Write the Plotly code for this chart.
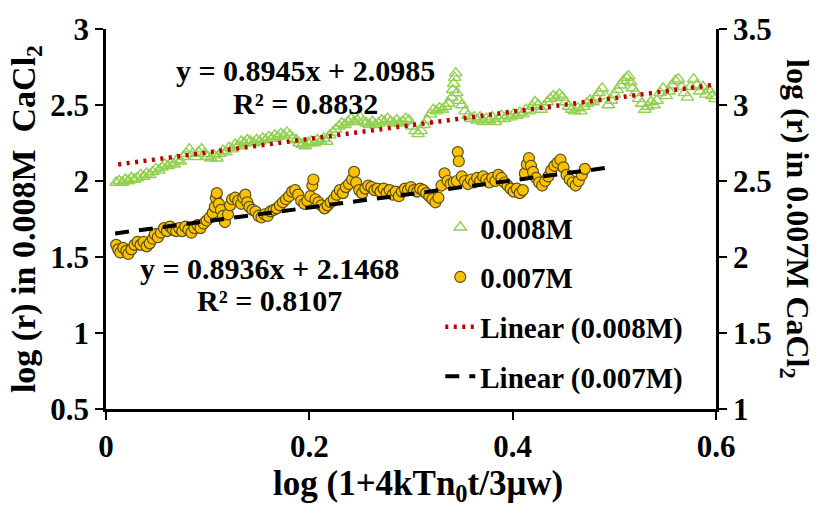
import plotly.graph_objects as go

# ---------------- data ----------------
x_008 = [0.010,0.013,0.016,0.019,0.022,0.025,0.028,0.031,0.034,0.037,0.040,0.043,0.046,0.049,0.052,0.055,0.058,0.061,0.064,0.067,
         0.070,0.073,0.076,0.079,0.082,0.085,0.088,0.091,0.094,0.097,0.100,0.103,0.106,0.109,0.112,0.115,0.118,0.121,0.124,0.127,
         0.130,0.133,0.136,0.139,0.142,0.145,0.148,0.151,0.154,0.157,0.160,0.163,0.166,0.169,0.172,0.175,0.178,0.181,0.184,0.187,
         0.190,0.193,0.196,0.199,0.202,0.205,0.208,0.211,0.214,0.217,0.220,0.223,0.226,0.229,0.232,0.235,0.238,0.241,0.244,0.247,
         0.250,0.253,0.256,0.259,0.262,0.265,0.268,0.271,0.274,0.277,0.280,0.283,0.286,0.289,0.292,0.295,0.298,0.301,0.304,0.307,
         0.310,0.313,0.316,0.319,0.322,0.325,0.328,0.331,0.334,0.337,0.340,0.341,0.342,0.343,0.344,0.345,0.347,0.350,0.353,0.356,
         0.359,0.362,0.365,0.368,0.371,0.374,0.377,0.380,0.383,0.386,0.389,0.392,0.395,0.398,0.401,0.404,0.407,0.410,0.413,0.416,
         0.419,0.422,0.425,0.428,0.431,0.434,0.437,0.440,0.443,0.446,0.449,0.452,0.455,0.458,0.461,0.464,0.467,0.470,0.473,0.476,
         0.479,0.482,0.485,0.488,0.491,0.494,0.497,0.500,0.503,0.506,0.509,0.512,0.514,0.516,0.518,0.521,0.524,0.527,0.530,0.533,
         0.536,0.539,0.542,0.545,0.548,0.551,0.554,0.557,0.560,0.563,0.566,0.569,0.572,0.575,0.578,0.581,0.584,0.587,0.590,0.593,
         0.596,0.599]
y_008 = [1.99,2.00,1.99,2.01,2.00,2.02,2.01,2.02,2.04,2.03,2.05,2.04,2.06,2.08,2.07,2.09,2.11,2.10,2.12,2.11,
         2.14,2.13,2.16,2.18,2.21,2.18,2.16,2.19,2.21,2.18,2.16,2.15,2.17,2.15,2.18,2.20,2.19,2.22,2.21,2.24,
         2.23,2.26,2.25,2.27,2.26,2.25,2.27,2.26,2.28,2.27,2.29,2.28,2.30,2.29,2.31,2.30,2.32,2.30,2.28,2.27,
         2.25,2.24,2.23,2.25,2.26,2.25,2.27,2.26,2.28,2.26,2.30,2.32,2.34,2.36,2.38,2.37,2.39,2.41,2.39,2.40,
         2.42,2.39,2.38,2.37,2.39,2.37,2.38,2.40,2.39,2.41,2.39,2.38,2.40,2.38,2.39,2.41,2.40,2.36,2.33,2.31,
         2.33,2.37,2.40,2.44,2.47,2.46,2.48,2.47,2.49,2.51,2.55,2.60,2.64,2.68,2.71,2.58,2.53,2.50,2.46,2.43,
         2.41,2.42,2.40,2.42,2.39,2.41,2.40,2.42,2.39,2.41,2.43,2.41,2.43,2.42,2.44,2.43,2.45,2.44,2.47,2.46,
         2.49,2.52,2.50,2.47,2.49,2.52,2.54,2.56,2.55,2.57,2.55,2.52,2.49,2.47,2.46,2.48,2.46,2.49,2.51,2.53,
         2.52,2.55,2.58,2.61,2.56,2.50,2.53,2.57,2.60,2.63,2.66,2.68,2.69,2.65,2.61,2.58,2.54,2.51,2.47,2.49,
         2.52,2.50,2.53,2.58,2.61,2.56,2.59,2.63,2.66,2.67,2.62,2.58,2.55,2.62,2.67,2.63,2.59,2.62,2.57,2.60,
         2.56,2.54]

x_007 = [0.010,0.012,0.014,0.017,0.020,0.022,0.025,0.028,0.031,0.034,0.037,0.040,0.043,0.046,0.048,0.051,0.054,0.057,0.060,0.063,
         0.066,0.069,0.072,0.075,0.078,0.081,0.084,0.087,0.090,0.093,0.096,0.099,0.102,0.105,0.107,0.108,0.109,0.111,0.113,0.115,
         0.117,0.120,0.122,0.124,0.127,0.130,0.133,0.135,0.137,0.139,0.141,0.144,0.147,0.150,0.153,0.156,0.159,0.162,0.165,0.168,
         0.171,0.174,0.177,0.180,0.183,0.186,0.189,0.192,0.195,0.198,0.201,0.203,0.204,0.206,0.209,0.212,0.215,0.218,0.221,0.224,
         0.227,0.230,0.233,0.236,0.239,0.242,0.244,0.246,0.249,0.252,0.255,0.258,0.261,0.264,0.267,0.270,0.273,0.276,0.279,0.282,
         0.285,0.288,0.291,0.294,0.297,0.300,0.303,0.306,0.309,0.312,0.315,0.318,0.321,0.324,0.327,0.330,0.333,0.336,0.339,0.342,
         0.345,0.346,0.347,0.350,0.353,0.356,0.359,0.362,0.365,0.368,0.371,0.374,0.377,0.380,0.383,0.386,0.389,0.392,0.395,0.398,
         0.401,0.404,0.407,0.410,0.412,0.414,0.416,0.418,0.420,0.423,0.426,0.429,0.432,0.435,0.438,0.441,0.444,0.447,0.450,0.453,
         0.456,0.459,0.462,0.465,0.468,0.471]
y_007 = [2.08,2.05,2.03,2.06,2.04,2.02,2.05,2.08,2.10,2.08,2.10,2.07,2.09,2.12,2.15,2.13,2.16,2.19,2.17,2.20,
         2.18,2.17,2.19,2.17,2.20,2.18,2.16,2.19,2.21,2.19,2.22,2.24,2.26,2.29,2.33,2.39,2.42,2.35,2.31,2.27,
         2.23,2.28,2.34,2.38,2.39,2.37,2.35,2.39,2.41,2.36,2.33,2.31,2.30,2.27,2.26,2.28,2.27,2.30,2.31,2.32,
         2.34,2.36,2.38,2.40,2.43,2.44,2.41,2.37,2.35,2.37,2.40,2.47,2.51,2.38,2.36,2.34,2.32,2.34,2.36,2.38,
         2.41,2.44,2.42,2.46,2.48,2.51,2.56,2.49,2.44,2.42,2.45,2.47,2.46,2.44,2.45,2.43,2.45,2.42,2.44,2.41,
         2.43,2.40,2.43,2.45,2.44,2.46,2.44,2.43,2.45,2.44,2.42,2.40,2.38,2.36,2.39,2.47,2.55,2.50,2.48,2.49,
         2.50,2.69,2.63,2.53,2.50,2.48,2.51,2.49,2.52,2.50,2.53,2.51,2.49,2.52,2.50,2.54,2.52,2.49,2.47,2.45,
         2.43,2.45,2.42,2.44,2.55,2.61,2.65,2.60,2.56,2.52,2.49,2.47,2.50,2.53,2.57,2.60,2.62,2.64,2.59,2.54,
         2.51,2.49,2.47,2.50,2.54,2.58]

# trendline equations (from the chart) and their x-extent
slope_008, icpt_008, r2_008 = 0.8945, 2.0985, 0.8832
slope_007, icpt_007, r2_007 = 0.8936, 2.1468, 0.8107
trend_x_008 = [0.012, 0.600]
trend_x_007 = [0.009, 0.493]

# tick labels
x_ticks = [0, 0.2, 0.4, 0.6]
x_ticklabels = ["0", "0.2", "0.4", "0.6"]
y_ticks = [0.5, 1, 1.5, 2, 2.5, 3]
y_ticklabels = ["0.5", "1", "1.5", "2", "2.5", "3"]
y2_ticks = [1, 1.5, 2, 2.5, 3, 3.5]
y2_ticklabels = ["1", "1.5", "2", "2.5", "3", "3.5"]

# ---------------- figure ----------------
FONT = "Liberation Serif"
green = "#92D050"
gold = "#FFC000"

fig = go.Figure()
fig.add_trace(go.Scatter(
    x=x_008, y=y_008, mode="markers", name="0.008M", legendgroup="a",
    marker=dict(symbol="triangle-up-open", size=11, color=green, line=dict(width=1.4, color=green)),
    yaxis="y"))
fig.add_trace(go.Scatter(
    x=x_007, y=y_007, mode="markers", name="0.007M", legendgroup="b",
    marker=dict(symbol="circle", size=11, color=gold, line=dict(width=1.2, color="#55501E")),
    yaxis="y2"))
fig.add_trace(go.Scatter(
    x=trend_x_008, y=[slope_008 * v + icpt_008 for v in trend_x_008], mode="lines",
    name="Linear (0.008M)", legendgroup="c",
    line=dict(color="#C00000", width=4.5, dash="3px,5.5px"), yaxis="y"))
fig.add_trace(go.Scatter(
    x=trend_x_007, y=[slope_007 * v + icpt_007 for v in trend_x_007], mode="lines",
    name="Linear (0.007M)", legendgroup="d",
    line=dict(color="black", width=4, dash="14px,10px"), yaxis="y2"))

tick_font = dict(family=FONT, size=31, color="black")
axis_common = dict(
    showgrid=False, zeroline=False, showline=True, linecolor="black", linewidth=2.5,
    ticks="outside", ticklen=8, tickwidth=2, tickcolor="black", tickfont=tick_font,
    tickmode="array",
)

def bold(labels):
    return ["<b>%s</b>" % s for s in labels]

fig.update_layout(
    width=818, height=506,
    margin=dict(l=106, r=102, t=19, b=97),
    paper_bgcolor="white", plot_bgcolor="white",
    font=dict(family=FONT, color="black", size=30),
    showlegend=True,
    legend=dict(x=0.548, y=0.545, xanchor="left", yanchor="top",
                font=dict(family=FONT, size=29, color="black"),
                bgcolor="rgba(0,0,0,0)", tracegroupgap=9, itemwidth=30),
    xaxis=dict(range=[0, 0.6], tickvals=x_ticks, ticktext=bold(x_ticklabels), **axis_common),
    yaxis=dict(range=[0.5, 3], tickvals=y_ticks, ticktext=bold(y_ticklabels), **axis_common),
    yaxis2=dict(range=[1, 3.5], tickvals=y2_ticks, ticktext=bold(y2_ticklabels),
                overlaying="y", side="right", **axis_common),
)

# bold legend text
for tr in fig.data:
    tr.name = "<b>%s</b>" % tr.name

ann_font = dict(family=FONT, size=30, color="black")
title_font = dict(family=FONT, size=34, color="black")
anns = [
    dict(x=0.196, y=2.724, xref="x", yref="y", text="<b>y = %.4fx + %.4f</b>" % (slope_008, icpt_008)),
    dict(x=0.196, y=2.513, xref="x", yref="y", text="<b>R² = %.4f</b>" % r2_008),
    dict(x=0.161, y=1.423, xref="x", yref="y", text="<b>y = %.4fx + %.4f</b>" % (slope_007, icpt_007)),
    dict(x=0.161, y=1.212, xref="x", yref="y", text="<b>R² = %.4f</b>" % r2_007),
]
for a in anns:
    fig.add_annotation(showarrow=False, font=ann_font, xanchor="center", yanchor="middle", **a)

fig.add_annotation(x=0.511, y=-0.2, xref="paper", yref="paper", showarrow=False,
                   xanchor="center", yanchor="middle",
                   text="<b>log (1+4kTn<sub>0</sub>t/3μw)</b>", font=dict(family=FONT, size=35, color="black"))
fig.add_annotation(x=-0.131, y=0.5, xref="paper", yref="paper", showarrow=False, textangle=-90,
                   xanchor="center", yanchor="middle",
                   text="<b>log (r) in 0.008M\u00a0 CaCl<sub>2</sub></b>", font=title_font)
fig.add_annotation(x=1.131, y=0.5, xref="paper", yref="paper", showarrow=False, textangle=90,
                   xanchor="center", yanchor="middle",
                   text="<b>log (r) in 0.007M CaCl<sub>2</sub></b>", font=dict(family=FONT, size=32, color="black"))

fig.write_html("out.html")
